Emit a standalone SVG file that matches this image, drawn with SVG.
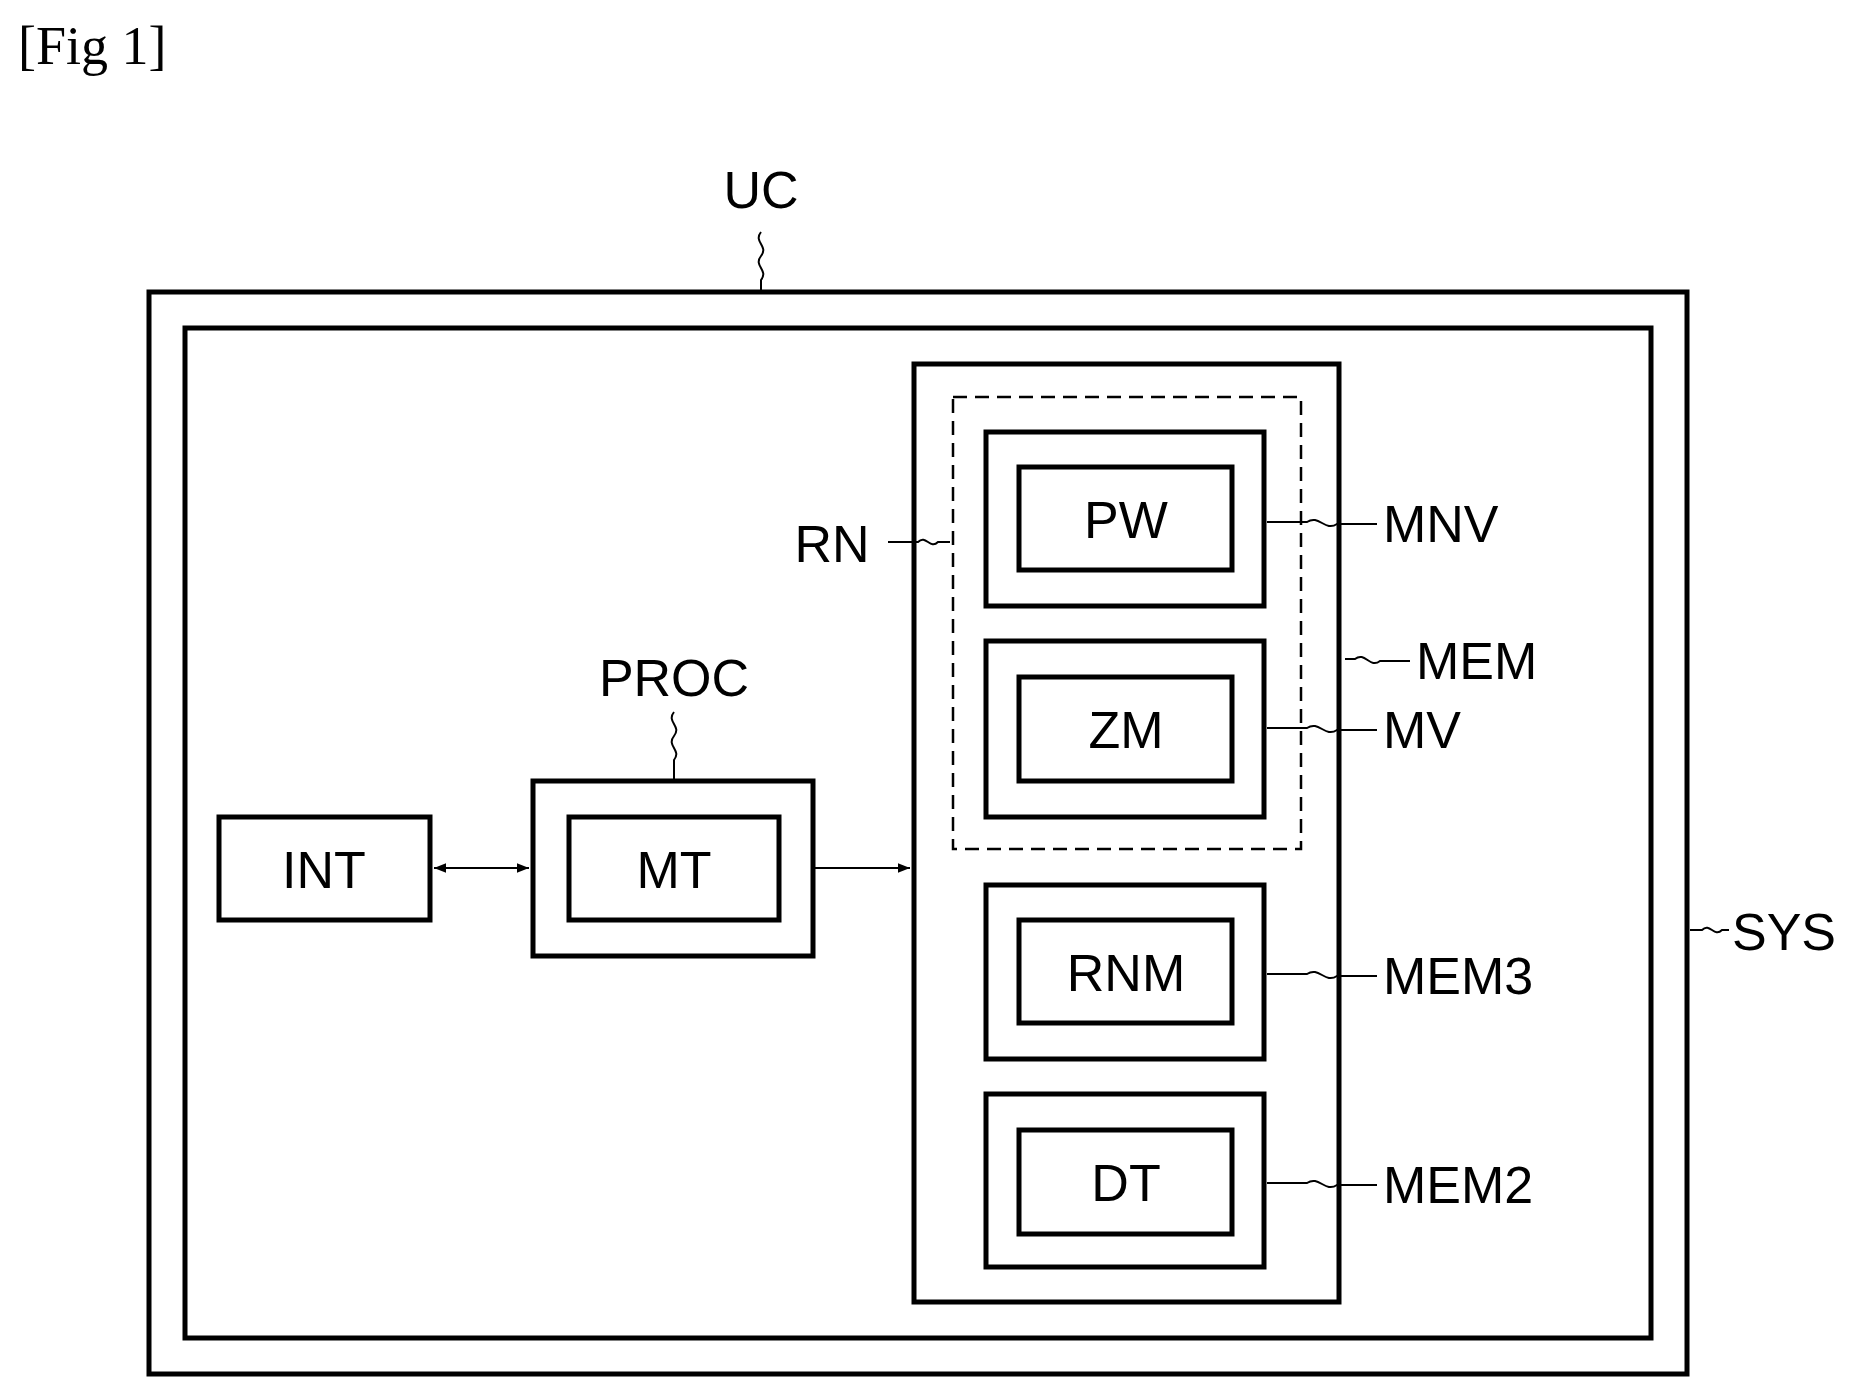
<svg xmlns="http://www.w3.org/2000/svg" width="1860" height="1390" viewBox="0 0 1860 1390">
<style>
.b{fill:none;stroke:#000;stroke-width:5}
.t{font-family:"Liberation Sans",Arial,sans-serif;font-size:52px;fill:#000}
.m{text-anchor:middle}
.l{fill:none;stroke:#000;stroke-width:2}
</style>
<defs><marker id="a" viewBox="0 0 10 10" refX="10" refY="5" markerWidth="6" markerHeight="6" orient="auto-start-reverse"><path d="M0,1 L10,5 L0,9 z"/></marker></defs>
<rect width="1860" height="1390" fill="#fff"/>
<text x="18" y="64" font-family="Liberation Serif,serif" font-size="54">[Fig 1]</text>
<g id="SYS"><rect class="b" x="149" y="292" width="1538" height="1082"/></g>
<g id="UC"><rect class="b" x="185" y="328" width="1466" height="1010"/></g>
<g id="MEM"><rect class="b" x="914" y="364" width="425" height="938"/></g>
<g id="RN"><rect x="953" y="397" width="348" height="452" fill="none" stroke="#000" stroke-width="2.5" stroke-dasharray="14,8"/></g>
<g id="MNV"><rect class="b" x="986" y="432" width="278" height="174"/><rect class="b" x="1019" y="467" width="213" height="103"/><text class="t m" x="1126" y="538">PW</text></g>
<g id="MV"><rect class="b" x="986" y="641" width="278" height="176"/><rect class="b" x="1019" y="677" width="213" height="104"/><text class="t m" x="1126" y="748">ZM</text></g>
<g id="MEM3"><rect class="b" x="986" y="885" width="278" height="174"/><rect class="b" x="1019" y="920" width="213" height="103"/><text class="t m" x="1126" y="991">RNM</text></g>
<g id="MEM2"><rect class="b" x="986" y="1094" width="278" height="173"/><rect class="b" x="1019" y="1130" width="213" height="104"/><text class="t m" x="1126" y="1201">DT</text></g>
<g id="INT"><rect class="b" x="219" y="817" width="211" height="103"/><text class="t m" x="324" y="888">INT</text></g>
<g id="PROC"><rect class="b" x="533" y="781" width="280" height="175"/><rect class="b" x="569" y="817" width="210" height="103"/><text class="t m" x="674" y="888">MT</text></g>
<g id="connectors">
<line class="l" x1="434" y1="868" x2="529" y2="868" marker-start="url(#a)" marker-end="url(#a)"/>
<line class="l" x1="815" y1="868" x2="910" y2="868" marker-end="url(#a)"/>
<path class="l" d="M761,232 c-8,10 8,14 0,24 c-8,10 8,14 0,24 l0,12"/>
<path class="l" d="M674,712 c-8,10 8,14 0,24 c-8,10 8,14 0,24 l0,21"/>
<path class="l" d="M888,542 l30,0 c8,-8 12,8 20,0 l12,0"/>
<path class="l" d="M1267,522 l40,0 c12,-8 18,10 30,2 l40,0"/>
<path class="l" d="M1345,659 l10,0 c10,-8 15,10 25,2 l30,0"/>
<path class="l" d="M1267,728 l40,0 c12,-8 18,10 30,2 l40,0"/>
<path class="l" d="M1267,974 l40,0 c12,-8 18,10 30,2 l40,0"/>
<path class="l" d="M1267,1183 l40,0 c12,-8 18,10 30,2 l40,0"/>
<path class="l" d="M1690,930 l12,0 c8,-8 12,8 20,0 l7,0"/>
</g>
<text class="t m" x="761" y="208">UC</text>
<text class="t m" x="674" y="696">PROC</text>
<text class="t m" x="832" y="562">RN</text>
<text class="t" x="1383" y="542">MNV</text>
<text class="t" x="1416" y="679">MEM</text>
<text class="t" x="1383" y="748">MV</text>
<text class="t" x="1383" y="994">MEM3</text>
<text class="t" x="1383" y="1203">MEM2</text>
<text class="t" x="1732" y="950">SYS</text>
</svg>
